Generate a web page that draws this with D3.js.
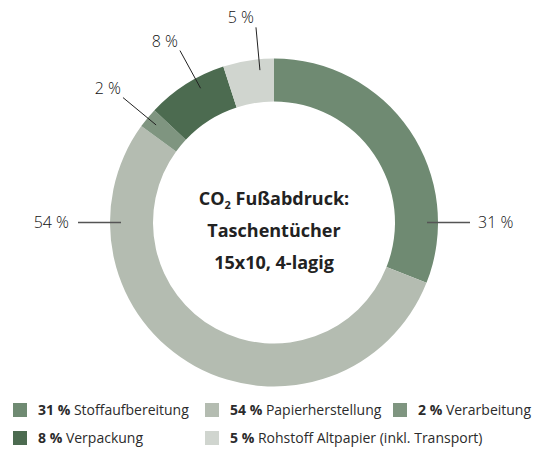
<!DOCTYPE html>
<html>
<head>
<meta charset="utf-8">
<script src="https://cdn.jsdelivr.net/npm/d3@7"></script>
<style>
  body { margin: 0; background: #fff; }
  svg text { font-family: "Open Sans", "Noto Sans", sans-serif; fill: #2b2b2b; }
</style>
</head>
<body>
<div id="chart"></div>
<script>
// chart data
const categories = ['Stoffaufbereitung', 'Papierherstellung', 'Verarbeitung', 'Verpackung', 'Rohstoff Altpapier (inkl. Transport)'];
const shares = [31, 54, 2, 8, 5];
const colors = ['#6f8a72', '#b4bcb1', '#7f9580', '#4c6b50', '#d0d5cf'];
const titleLines = ['Fußabdruck:', 'Taschentücher', '15x10, 4-lagig'];

const width = 538, height = 449;
const cx = 274, cy = 222.5;
const outerR = 164, innerR = 121;

const data = categories.map((c, i) => ({ name: c, value: shares[i], color: colors[i] }));

const svg = d3.select('#chart').append('svg')
  .attr('width', width)
  .attr('height', height);

const pie = d3.pie().sort(null).value(d => d.value);
const arc = d3.arc().innerRadius(innerR).outerRadius(outerR);
const arcs = pie(data);

const g = svg.append('g').attr('transform', `translate(${cx},${cy})`);

g.selectAll('path.slice')
  .data(arcs)
  .enter().append('path')
  .attr('class', 'slice')
  .attr('d', arc)
  .attr('fill', d => d.data.color);

// label lines: big slices get horizontal leaders, small ones radial
//  angles nudged by hand like in the original
const nudge = { 'Verpackung': 0.065, 'Rohstoff Altpapier (inkl. Transport)': 0.065 };
function labelAngle(d) {
  if (d.index === 0) return Math.PI / 2;
  if (d.index === 1) return Math.PI * 1.5;
  return (d.startAngle + d.endAngle) / 2 + (nudge[d.data.name] || 0);
}
const r0 = 153, r1 = 196;

const lab = g.selectAll('g.lab')
  .data(arcs)
  .enter().append('g')
  .attr('class', 'lab');

lab.append('line')
  .attr('x1', d => Math.sin(labelAngle(d)) * r0)
  .attr('y1', d => -Math.cos(labelAngle(d)) * r0)
  .attr('x2', d => Math.sin(labelAngle(d)) * r1)
  .attr('y2', d => -Math.cos(labelAngle(d)) * r1)
  .attr('stroke', d => d.index < 2 ? '#555' : '#222')
  .attr('stroke-width', d => d.index < 2 ? 1.6 : 1);

lab.append('text')
  .text(d => d.data.value + ' %')
  .style('font-size', '16px')
  .style('font-weight', 300)
  .style('fill', '#111')
  .attr('x', d => {
    const a = labelAngle(d);
    const x = Math.sin(a) * r1;
    if (d.index === 0) return x + 8;
    if (d.index === 1) return x - 9;
    return x - 2;
  })
  .attr('y', d => {
    const a = labelAngle(d);
    const y = -Math.cos(a) * r1;
    if (d.index < 2) return y;
    return y - 4;
  })
  .attr('dy', d => d.index < 2 ? '0.35em' : 0)
  .attr('text-anchor', d => d.index === 0 ? 'start' : 'end');

// centre title
const title = g.append('text')
  .attr('text-anchor', 'middle')
  .style('font-size', '18px')
  .style('font-weight', 700)
  .style('fill', '#222');

const t1 = title.append('tspan').attr('x', 0).attr('y', -18);
t1.append('tspan').text('CO');
t1.append('tspan').text('2').style('font-size', '11px').attr('dy', 4);
t1.append('tspan').text(' ' + titleLines[0]).attr('dy', -4);
title.append('tspan').attr('x', 0).attr('y', 14).text(titleLines[1]);
title.append('tspan').attr('x', 0).attr('y', 46).text(titleLines[2]);

// legend
const legendPos = [[13, 410], [205, 410], [393, 410], [13, 438], [205, 438]];
const leg = svg.selectAll('g.legend')
  .data(data)
  .enter().append('g')
  .attr('class', 'legend')
  .attr('transform', (d, i) => `translate(${legendPos[i][0]},${legendPos[i][1]})`);

leg.append('rect')
  .attr('x', 0).attr('y', -7)
  .attr('width', 14).attr('height', 14)
  .attr('fill', d => d.color);

const lt = leg.append('text')
  .attr('x', 25)
  .attr('dy', '0.35em')
  .style('font-size', '14px');
lt.append('tspan').text(d => d.value + ' %').style('font-weight', 700);
lt.append('tspan').text(d => ' ' + d.name).style('font-weight', 400);
</script>
</body>
</html>
